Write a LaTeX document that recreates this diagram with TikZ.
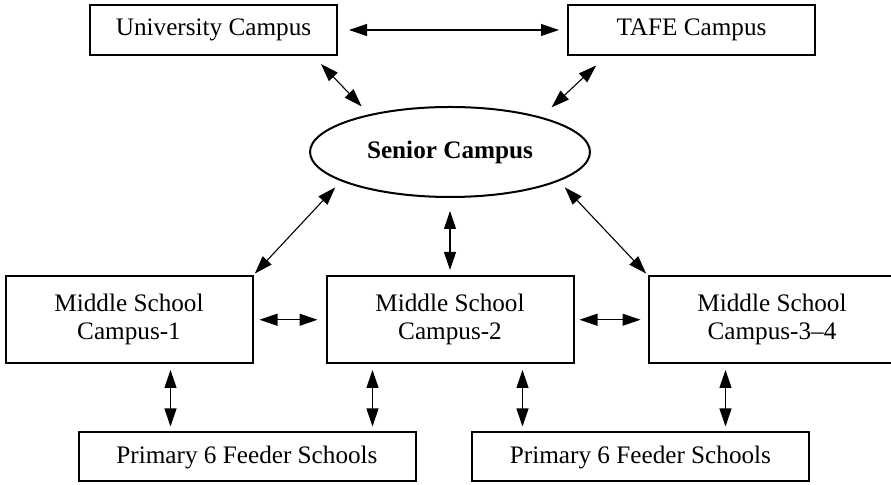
\documentclass[tikz,border=0pt]{standalone}
\usepackage{fontspec}
\setmainfont{Liberation Serif}
\usetikzlibrary{positioning, arrows.meta, shapes.geometric}

\begin{document}
\begin{tikzpicture}[
x=0.5pt, y=0.5pt,
every node/.style={font=\fontsize{12.6}{14}\selectfont},
campus box/.style={draw, line width=1pt, minimum width=123.5pt, minimum height=25pt, align=center},
middle box/.style={campus box, minimum height=43.75pt},
feeder box/.style={campus box, minimum width=168.5pt, minimum height=24.5pt},
twoway/.style={{Triangle[length=9pt,width=6pt]}-{Triangle[length=9pt,width=6pt]}, line width=0.55pt},
]

% page size
\useasboundingbox (0,0) rectangle (891,-485);

% Senior campus in the middle
\node[draw, ellipse, line width=1pt, minimum width=140pt, minimum height=45pt, inner sep=0pt, font=\fontsize{12.6}{14}\selectfont\bfseries] (senior) at (450,-152) {Senior Campus};

% University and TAFE above
\node[campus box, above=25pt of senior.north, xshift=-118.25pt] (uni) {University Campus};
\node[campus box, right=114.5pt of uni] (tafe) {TAFE Campus};

% Middle school campuses below
\node[middle box, below=38.5pt of senior] (ms2) {Middle School\\Campus-2};
\node[middle box, left=36pt of ms2] (ms1) {Middle School\\Campus-1};
\node[middle box, right=36pt of ms2, xshift=0.5pt] (ms3) {Middle School\\Campus-3–4};

% Primary feeder schools at the bottom
\node[feeder box, below=33.5pt of ms1.south east, xshift=-3.25pt] (p1) {Primary 6 Feeder Schools};
\node[feeder box, below=33.5pt of ms3.south west, xshift=-3.5pt] (p2) {Primary 6 Feeder Schools};

% Links at the top
\draw[twoway, shorten <=5.5pt, shorten >=4pt] (uni) -- (tafe);
\draw[twoway, shorten <=5.5pt, shorten >=5.5pt] ([xshift=-12.35pt]uni.south east) -- (senior.155);
\draw[twoway, shorten <=7pt, shorten >=7pt] ([xshift=19.7pt]tafe.south west) -- (senior.21);

% Senior campus to middle schools
\draw[twoway, shorten <=4.25pt, shorten >=1pt] (senior.195) -- (ms1.north east);
\draw[twoway, shorten <=6.5pt, shorten >=2.5pt] (senior.south) -- (ms2.north);
\draw[twoway, shorten <=4.25pt, shorten >=1pt] (senior.-15) -- (ms3.north west);

% Between middle schools
\draw[twoway, shorten <=3pt, shorten >=4pt] (ms1) -- (ms2);
\draw[twoway, shorten <=2.5pt, shorten >=3.5pt] (ms2) -- (ms3);

% Middle schools to feeder schools
\draw[twoway, shorten <=2.75pt, shorten >=2.5pt] ([xshift=20.75pt]ms1.south) -- ([xshift=20.75pt]ms1.south |- p1.north);
\draw[twoway, shorten <=2.75pt, shorten >=2.5pt] ([xshift=-38.75pt]ms2.south) -- ([xshift=-38.75pt]ms2.south |- p1.north);
\draw[twoway, shorten <=2.75pt, shorten >=2.5pt] ([xshift=36.25pt]ms2.south) -- ([xshift=36.25pt]ms2.south |- p2.north);
\draw[twoway, shorten <=2.75pt, shorten >=2.5pt] ([xshift=-23.25pt]ms3.south) -- ([xshift=-23.25pt]ms3.south |- p2.north);
\end{tikzpicture}
\end{document}
